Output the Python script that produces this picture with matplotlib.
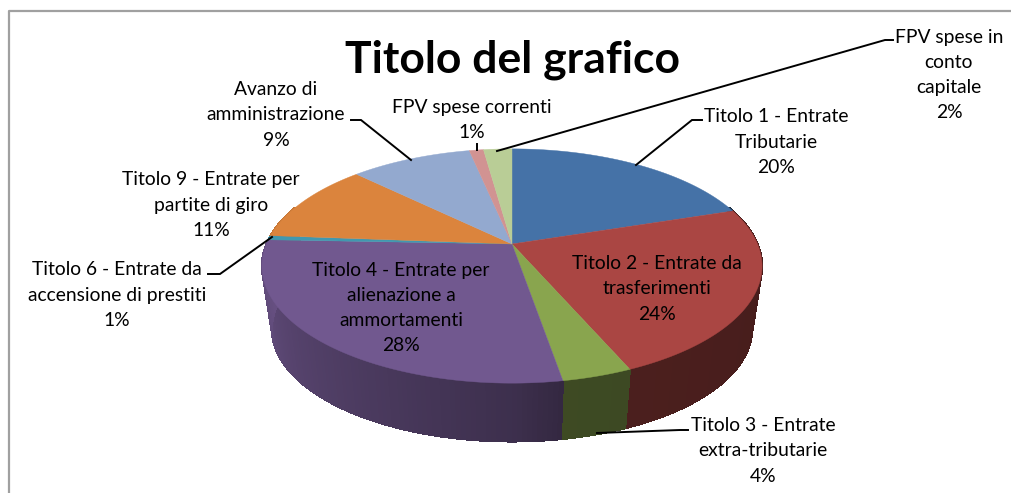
import numpy as np
import matplotlib
matplotlib.use("Agg")
import matplotlib.pyplot as plt

categories = [
    "Titolo 1 - Entrate\nTributarie",
    "Titolo 2 - Entrate da\ntrasferimenti",
    "Titolo 3 - Entrate\nextra-tributarie",
    "Titolo 4 - Entrate per\nalienazione a\nammortamenti",
    "Titolo 6 - Entrate da\naccensione di prestiti",
    "Titolo 9 - Entrate per\npartite di giro",
    "Avanzo di\namministrazione",
    "FPV spese correnti",
    "FPV spese in\nconto\ncapitale",
]
values = [20.0, 23.5, 3.8, 28.3, 0.6, 11.1, 9.4, 1.1, 2.2]
colors = ["#4572a7", "#aa4643", "#89a54e", "#71588f", "#4198af",
          "#db843d", "#93a9cf", "#d19392", "#b9cd96"]

# label centres in pixels
label_pos = [(776, 142), (657, 289), (763, 451), (401, 308), (117, 295),
             (211, 205), (276, 115), (472, 120), (949, 75)]

# leader lines in pixels
leaders = [
    [(636, 165), (692, 120), (702, 120)],
    [(597, 433), (680, 430), (688, 430)],
    [(272, 237), (220, 274), (208, 274)],
    [(411, 160), (361, 120), (351, 120)],
    [(477, 150), (477, 144)],
    [(497, 151), (885, 40), (893, 40)],
]

# perspective of the pie top
CX, CY = 512, 244
A, B, K = 245.6, 113, 0.188
ELL_Y = 266
DEPTH = 63
SHRINK = 0.96


def rim(theta):
    # theta in degrees, clockwise from 12 o'clock
    x = np.sin(np.radians(theta))
    y = np.cos(np.radians(theta))
    d = 1 + K * y
    return A * x / d, B * y / d


def top_pts(theta):
    X, Y = rim(theta)
    return CX + X, CY - Y


def bottom_pts(theta):
    X, Y = rim(theta)
    py = CY - Y
    return CX + SHRINK * X, ELL_Y + DEPTH + SHRINK * (py - ELL_Y)


def shade(theta):
    return np.interp(theta, [90, 170, 180, 270], [0.41, 0.45, 0.54, 0.9])


fig = plt.figure(figsize=(10.12, 4.93), dpi=100)
plt.rcParams["font.family"] = ["Lato", "DejaVu Sans"]
ax = fig.add_axes([0, 0, 1, 1])
ax.set_xlim(0, 1012)
ax.set_ylim(493, 0)
ax.axis("off")

# chart frame, only top and left fall inside the picture
ax.plot([9.5, 9.5, 1012], [493, 10.5, 10.5], color="#a0a0a0", lw=1.6, zorder=1)

edges = 360 * np.cumsum([0] + values) / sum(values)

# side wall first
for i, col in enumerate(colors):
    start = max(edges[i], 70)
    end = min(edges[i + 1], 290)
    if end <= start:
        continue
    steps = np.linspace(start, end, int(end - start) + 2)
    rgb = np.array(matplotlib.colors.to_rgb(col))
    for t0, t1 in zip(steps[:-1], steps[1:]):
        t = np.array([t0, t1])
        tx, ty = top_pts(t)
        bx, by = bottom_pts(t)
        fc = rgb * shade((t0 + t1) / 2)
        ax.fill(np.r_[tx, bx[::-1]], np.r_[ty, by[::-1]], color=fc, lw=0.8,
                antialiased=False, zorder=2)

# top surface
for i, col in enumerate(colors):
    t = np.linspace(edges[i], edges[i + 1], 80)
    tx, ty = top_pts(t)
    ax.fill(np.r_[CX, tx], np.r_[CY, ty], color=col, lw=0.3, zorder=3)

for pts in leaders:
    xs, ys = zip(*pts)
    ax.plot(xs, ys, color="black", lw=1.4, zorder=4, solid_joinstyle="miter")

for name, v, (x, y) in zip(categories, values, label_pos):
    ax.text(x, y, f"{name}\n{v:.0f}%", ha="center", va="center", fontsize=13.9,
            color="black", linespacing=1.58, zorder=5)

ax.text(513, 60, "Titolo del grafico", ha="center", va="center", fontsize=32,
        fontweight="bold", color="black", zorder=5)

plt.savefig("out.png", dpi=100)
plt.close()
